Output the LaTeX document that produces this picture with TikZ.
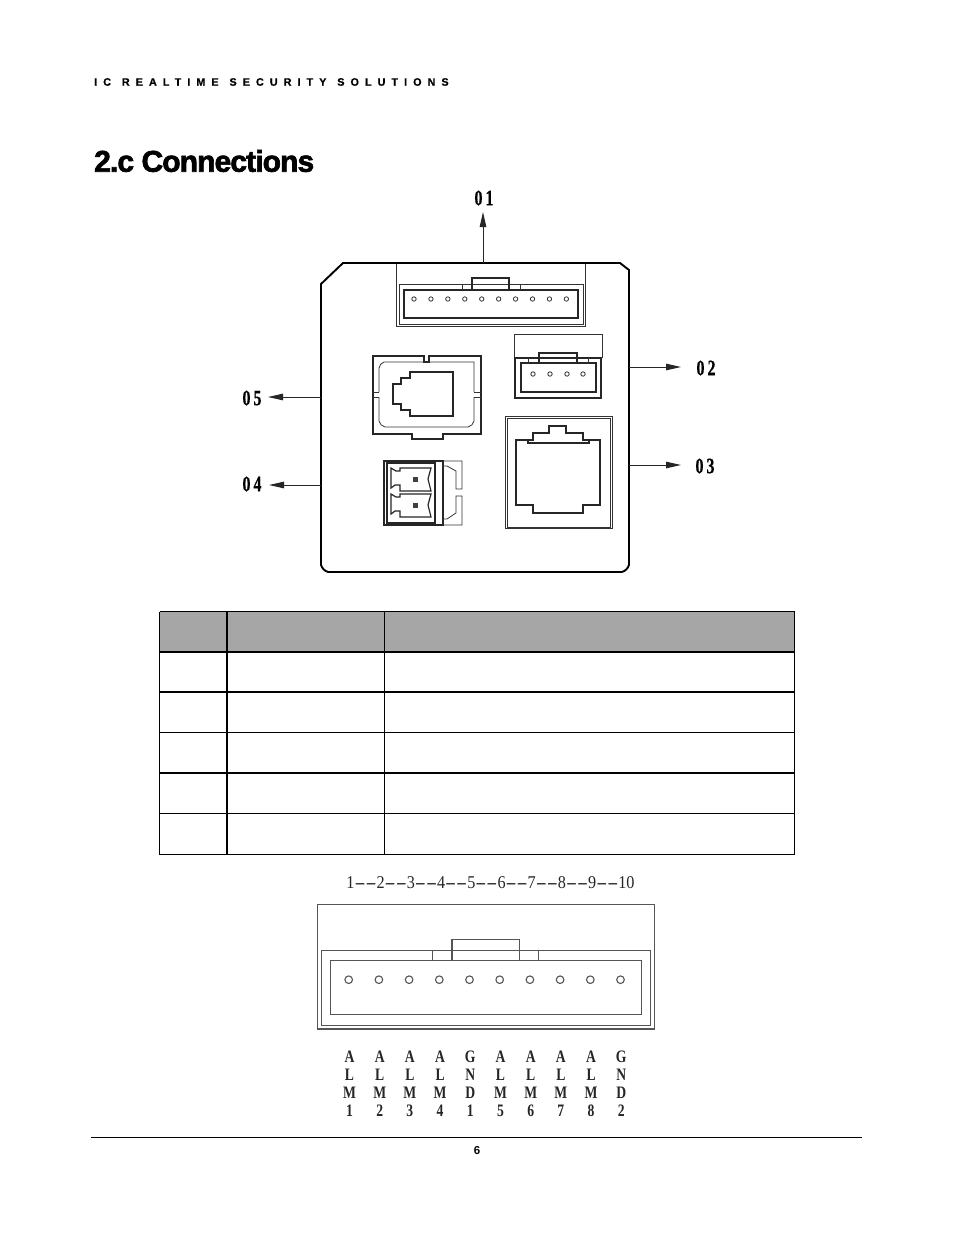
\documentclass[tikz,border=0pt]{standalone}
\usepackage{fontspec}
\setmainfont{Liberation Serif}
\newfontfamily\calloutfont[FakeStretch=0.72,LetterSpace=14,FakeBold=0.5]{Liberation Serif}
\newfontfamily\pinfont[FakeStretch=0.78]{Liberation Serif}
\newfontfamily\rulerfont[FakeStretch=0.9]{Liberation Serif}
\newfontfamily\runningfont[LetterSpace=56,WordSpace=1.2,FakeBold=0.6]{Liberation Sans}
\newfontfamily\titlefont[FakeBold=2.2,LetterSpace=-3]{Liberation Sans}
\newfontfamily\pagefont{Liberation Sans}
\usetikzlibrary{arrows.meta}
\definecolor{headgray}{HTML}{A6A6A6}
\definecolor{drawgray}{HTML}{555555}
\newcommand\dashpair{\scalebox{2.05}[1]{-}\scalebox{2.05}[1]{-}}
\tikzset{
    plate/.style={draw=black, line width=1.9pt},
    part/.style={draw=black!85, line width=1.2pt},
    thin part/.style={draw=black!80, line width=.8pt},
    callout/.style={draw=black!85, line width=1pt, -{Triangle[length=15pt,width=6.5pt]}},
    callout label/.style={font=\calloutfont\bfseries\fontsize{22}{22}\selectfont, inner sep=0pt},
    table line/.style={draw=black, line width=1.2pt},
    photo part/.style={draw=drawgray, line width=1.1pt},
    pin name/.style={font=\pinfont\bfseries\fontsize{17.5}{18}\selectfont, inner sep=0pt, align=center, anchor=north, text=black!85}
}
\begin{document}
\begin{tikzpicture}[x=1pt,y=-1pt]
    \useasboundingbox (0,0) rectangle (954,1235);
    \fill [white] (0,0) rectangle (954,1235);

    \node (running) [anchor=west, inner sep=0pt, font=\runningfont\bfseries\fontsize{10.8}{11}\selectfont] at (94,82) {IC REALTIME SECURITY SOLUTIONS};
    \node (title) [anchor=west, inner sep=0pt, font=\titlefont\bfseries\fontsize{30}{30}\selectfont] at (94,161) {2.c Connections};

    \draw [plate] (343,263) -- (620,263) -- (629,270) -- (629,565) to [bend left=25] (622,572)
                  -- (328,572) to [bend left=25] (321,565) -- (321,284) -- cycle;

    \draw [thin part] (396,264) -- (396,326) -- (585,326) -- (585,264);
    \draw [thin part] (399,284) rectangle (583,324);
    \draw [part] (404,290) rectangle (578,318);
    \draw [part] (472,290) -- (472,278) -- (509,278) -- (509,290);
    \draw [thin part] (462,284) -- (462,290);
    \draw [thin part] (520,284) -- (520,290);
    \foreach \i in {0,...,9} \draw [thin part] (414+16.93*\i,299) circle [radius=2.2];

    \draw [thin part] (514,358) -- (514,334) -- (602,334) -- (602,358);
    \draw [part] (515,358) rectangle (601,398);
    \draw [part] (521,363) rectangle (596,392);
    \draw [part] (539,363) -- (539,353) -- (577,353) -- (577,363);
    \draw [thin part] (528,358) -- (528,363);
    \draw [thin part] (588,358) -- (588,363);
    \foreach \x in {533,550,567,583} \draw [thin part] (\x,374) circle [radius=2.2];

    \draw [part] (373,356) -- (424,356) -- (424,362) -- (429,362) -- (429,356) -- (481,356) -- (481,434)
                 -- (443,434) -- (443,439) -- (412,439) -- (412,434) -- (373,434) -- cycle;
    \draw [thin part] (379,392) -- (379,368) to [bend left=30] (384,362) -- (474,362) -- (474,392);
    \draw [thin part] (379,397) -- (379,421) to [bend right=30] (385,427) -- (468,427) to [bend right=30] (474,421) -- (474,397);
    \draw [thin part] (373,392) -- (379,392);
    \draw [thin part] (373,397) -- (379,397);
    \draw [thin part] (474,392) -- (481,392);
    \draw [thin part] (474,397) -- (481,397);
    \draw [part] (410,372) -- (453,372) -- (453,416) -- (410,416) -- (410,410) -- (401,410) -- (401,404)
                 -- (393,404) -- (393,384) -- (401,384) -- (401,378) -- (410,378) -- cycle;

    \draw [part] (384,461) rectangle (443,525);
    \draw [part] (387,463) rectangle (435,523);
    \draw [thin part] (443,461) -- (462,461) -- (462,489) -- (456,489) -- (456,471) -- (447,466) -- (443,466);
    \draw [thin part] (443,525) -- (462,525) -- (462,496) -- (456,496) -- (456,513) -- (447,519) -- (443,519);
    \foreach \y in {0,26} {
        \draw [part] (391,468+\y) -- (396,471+\y) -- (400,471+\y) -- (400,468+\y) -- (431,468+\y) -- (428,479+\y)
                     -- (431,491+\y) -- (400,491+\y) -- (400,485+\y) -- (395,485+\y) -- (391,488+\y) -- cycle;
        \fill [black!75] (412.5,476.5+\y) rectangle (417.5,481.5+\y);
    }

    \draw [thin part] (505,416) rectangle (612,528);
    \draw [thin part] (507,418) rectangle (610,527);
    \draw [part] (528,440) -- (516,440) -- (516,505) -- (533,505) -- (533,513) -- (583,513) -- (583,505)
                 -- (600,505) -- (600,440) -- (589,440);
    \draw [part] (528,443) -- (528,440) -- (533,440) -- (533,433) -- (549,433) -- (549,426) -- (566,426)
                 -- (566,433) -- (583,433) -- (583,440) -- (589,440) -- (589,443) -- cycle;

    \node (label01) [callout label] at (484,198) {01};
    \node (label02) [callout label] at (706,368) {02};
    \node (label03) [callout label] at (705,466) {03};
    \node (label04) [callout label] at (252,484) {04};
    \node (label05) [callout label] at (252,398) {05};
    \coordinate (out01) at (483,263);
    \coordinate (out02) at (629,367);
    \coordinate (out03) at (629,465);
    \coordinate (out04) at (321,485);
    \coordinate (out05) at (321,397);
    \coordinate (tip01) at (483,212);
    \coordinate (tip02) at (681,367);
    \coordinate (tip03) at (681,465);
    \coordinate (tip04) at (269,485);
    \coordinate (tip05) at (268,397);
    \foreach \n in {01,02,03,04,05} \draw [callout] (out\n) -- (tip\n);

    \fill [headgray] (159.5,611.5) rectangle (794.5,652);
    \foreach \y in {611.5,652,692,732.5,773,813.5,854.5} \draw [table line] (159.5,\y) -- (794.5,\y);
    \foreach \x in {159.5,227,384.5,794.5} \draw [table line] (\x,611.5) -- (\x,854.5);

    \node (ruler) [inner sep=0pt, font=\rulerfont\fontsize{18}{18}\selectfont, text=black!85] at (490.5,883) {1\dashpair2\dashpair3\dashpair4\dashpair5\dashpair6\dashpair7\dashpair8\dashpair9\dashpair10};

    \draw [photo part] (317.5,904.5) rectangle (654.5,1029);
    \draw [photo part, line width=.9pt] (321.5,950) rectangle (650,1025.7);
    \draw [photo part] (330.7,960.7) rectangle (641.3,1014.3);
    \draw [photo part] (452,960.7) -- (452,939.3) -- (519.3,939.3) -- (519.3,960.7);
    \draw [photo part] (432.3,950) -- (432.3,960.7);
    \draw [photo part] (538.7,950) -- (538.7,960.7);
    \foreach \i in {0,...,9} \draw [photo part] (348.7+30.2*\i,979.7) circle [radius=3.8];

    \foreach \i/\t in {0/A\\L\\M\\1,1/A\\L\\M\\2,2/A\\L\\M\\3,3/A\\L\\M\\4,4/G\\N\\D\\1,5/A\\L\\M\\5,6/A\\L\\M\\6,7/A\\L\\M\\7,8/A\\L\\M\\8,9/G\\N\\D\\2}
        \node (pin\i) [pin name] at (349.5+30.2*\i,1051) {\t};

    \coordinate (footleft) at (91,1137);
    \coordinate (footright) at (862,1137);
    \draw [line width=.9pt] (footleft) -- (footright);
    \node (pagenum) [inner sep=0pt, font=\pagefont\bfseries\fontsize{11.5}{12}\selectfont] at (477,1151) {6};
\end{tikzpicture}
\end{document}
